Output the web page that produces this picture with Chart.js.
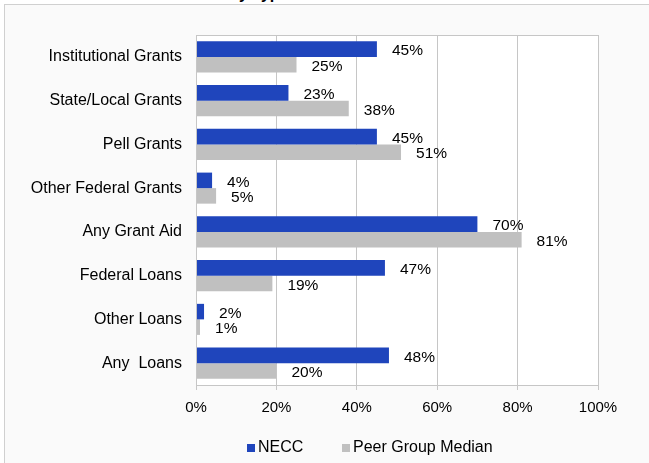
<!DOCTYPE html>
<html>
<head>
<meta charset="utf-8">
<script src="https://cdn.jsdelivr.net/npm/chart.js@4"></script>
<style>
  html, body { margin: 0; padding: 0; background: #ffffff; }
  #wrap {
    position: relative; width: 649px; height: 463px; overflow: hidden;
  }
  #frame {
    position: absolute; left: 4px; top: 4px; width: 700px; height: 500px;
    border-top: 1px solid #d0d0d0; border-left: 1px solid #d0d0d0;
    background: #fafafa;
  }
  #title {
    position: absolute; left: 199px; top: -15px;
    font: bold 16px Arial, "Liberation Sans", sans-serif; color: #000;
  }
  canvas { position: absolute; left: 0; top: 0; }
</style>
</head>
<body>
<div id="wrap">
  <div id="frame"></div>
  <div id="title">Aid by Type</div>
  <canvas id="aidChart" width="649" height="463"></canvas>
</div>
<script>
const categories = ['Institutional Grants', 'State/Local Grants', 'Pell Grants', 'Other Federal Grants',
    'Any Grant Aid', 'Federal Loans', 'Other Loans', 'Any  Loans'];
const neccValues = [45, 23, 45, 4, 70, 47, 2, 48];
const peerValues = [25, 38, 51, 5, 81, 19, 1, 20];
const xTicks = [0, 20, 40, 60, 80, 100];

const fontFamily = 'Arial, "Liberation Sans", sans-serif';

// white plot area with a grey box round it
const plotBox = {
    id: 'plotBox',
    beforeDraw(chart) {
        const a = chart.chartArea;
        const ctx = chart.ctx;
        ctx.save();
        ctx.fillStyle = '#ffffff';
        ctx.fillRect(a.left, a.top, a.right - a.left, a.bottom - a.top);
        ctx.restore();
    },
    afterDraw(chart) {
        const a = chart.chartArea;
        const ctx = chart.ctx;
        ctx.save();
        ctx.strokeStyle = '#c6c6c6';
        ctx.lineWidth = 1;
        ctx.strokeRect(a.left + 0.5, a.top + 0.5, a.right - a.left, a.bottom - a.top);
        ctx.restore();
    }
};

// value labels to the right of each bar
const valueLabels = {
    id: 'valueLabels',
    afterDatasetsDraw(chart) {
        const ctx = chart.ctx;
        ctx.save();
        ctx.font = '15.5px ' + fontFamily;
        ctx.fillStyle = '#000';
        ctx.textAlign = 'left';
        ctx.textBaseline = 'middle';
        chart.data.datasets.forEach((ds, i) => {
            chart.getDatasetMeta(i).data.forEach((bar, j) => {
                ctx.fillText(ds.data[j] + '%', bar.x + 15, bar.y + 2);
            });
        });
        ctx.restore();
    }
};

// legend drawn off-centre like the original
const legendXs = [247, 342];
const bottomLegend = {
    id: 'bottomLegend',
    afterDraw(chart) {
        const ctx = chart.ctx;
        ctx.save();
        ctx.font = '16px ' + fontFamily;
        ctx.textAlign = 'left';
        ctx.textBaseline = 'middle';
        chart.data.datasets.forEach((ds, i) => {
            const x = legendXs[i];
            ctx.fillStyle = ds.backgroundColor;
            ctx.fillRect(x, 444, 8, 8);
            ctx.fillStyle = '#000';
            ctx.fillText(ds.label, x + 11, 448);
        });
        ctx.restore();
    }
};

new Chart(document.getElementById('aidChart'), {
    type: 'bar',
    data: {
        labels: categories,
        datasets: [{
            label: 'NECC',
            data: neccValues,
            backgroundColor: '#1f45bc',
            borderWidth: 0,
            categoryPercentage: 0.71,
            barPercentage: 1
        }, {
            label: 'Peer Group Median',
            data: peerValues,
            backgroundColor: '#c0c0c0',
            borderWidth: 0,
            categoryPercentage: 0.71,
            barPercentage: 1
        }]
    },
    options: {
        indexAxis: 'y',
        responsive: false,
        animation: false,
        layout: { padding: { top: 35, right: 51, left: 0, bottom: 31 } },
        scales: {
            x: {
                min: 0,
                max: 100,
                afterBuildTicks: scale => { scale.ticks = xTicks.map(v => ({ value: v })); },
                afterFit: scale => { scale.height = 47; },
                grid: { color: '#c6c6c6', tickLength: 5 },
                border: { color: '#c6c6c6' },
                ticks: {
                    color: '#000',
                    font: { family: fontFamily, size: 15 },
                    padding: 9,
                    callback: v => v + '%'
                }
            },
            y: {
                afterFit: scale => { scale.width = 196; },
                grid: { display: false, drawTicks: false },
                border: { color: '#c6c6c6' },
                ticks: {
                    color: '#000',
                    font: { family: fontFamily, size: 16 },
                    padding: 14
                }
            }
        },
        plugins: {
            legend: { display: false },
            tooltip: { enabled: false }
        }
    },
    plugins: [plotBox, valueLabels, bottomLegend]
});
</script>
</body>
</html>
